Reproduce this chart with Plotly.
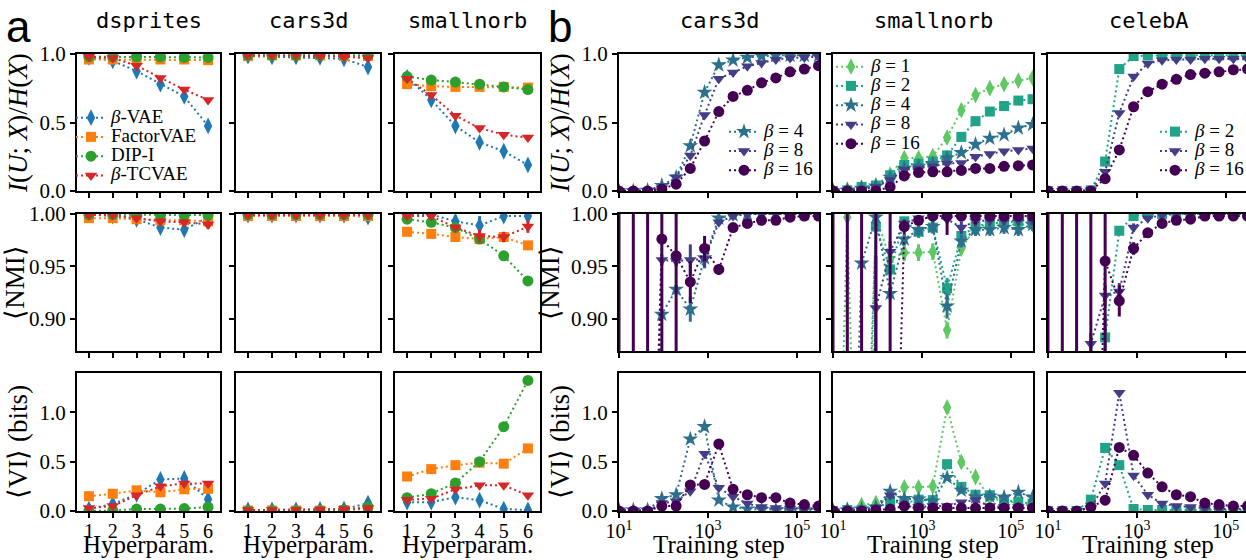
import plotly.graph_objects as go

W, H = 1246, 560

# ---------------- data ----------------
hyperparams = [1, 2, 3, 4, 5, 6]
steps = [10, 21, 44, 92, 193, 402, 842, 1760, 3690, 7720, 16100, 33800, 70700, 148000, 309000]

datasets_a = ['dsprites', 'cars3d', 'smallnorb']
datasets_b = ['cars3d', 'smallnorb', 'celebA']
method_names = ['<i>β</i>-VAE', 'FactorVAE', 'DIP-I', '<i>β</i>-TCVAE']

# Panel a, row 1: I(U;X)/H(X)
mi_dsprites_bvae = [0.975, 0.95, 0.875, 0.78, 0.69, 0.475]
mi_dsprites_fvae = [0.96, 0.96, 0.96, 0.96, 0.96, 0.955]
mi_dsprites_dip = [0.98, 0.98, 0.98, 0.98, 0.975, 0.975]
mi_dsprites_tc = [0.98, 0.97, 0.915, 0.825, 0.74, 0.665]
mi_cars3d_bvae = [0.985, 0.98, 0.98, 0.975, 0.965, 0.905]
mi_cars3d_fvae = [0.985, 0.99, 0.99, 0.99, 0.985, 0.985]
mi_cars3d_dip = [0.99, 0.99, 0.99, 0.99, 0.99, 0.99]
mi_cars3d_tc = [0.99, 0.99, 0.99, 0.985, 0.98, 0.97]
mi_smallnorb_bvae = [0.83, 0.665, 0.475, 0.355, 0.29, 0.19]
mi_smallnorb_fvae = [0.78, 0.765, 0.76, 0.76, 0.76, 0.755]
mi_smallnorb_dip = [0.835, 0.81, 0.795, 0.78, 0.76, 0.74]
mi_smallnorb_tc = [0.82, 0.70, 0.55, 0.46, 0.41, 0.39]

# Panel a, row 2: <NMI> (+ error)
nmi_dsprites_bvae = [0.9995, 0.998, 0.995, 0.987, 0.985, 0.997]
nmi_dsprites_bvae_err = [0.0, 0.001, 0.002, 0.002, 0.002, 0.002]
nmi_dsprites_fvae = [0.996, 0.996, 0.995, 0.994, 0.994, 0.993]
nmi_dsprites_fvae_err = [0.001, 0.001, 0.001, 0.001, 0.001, 0.001]
nmi_dsprites_dip = [0.9995, 0.9995, 0.999, 0.999, 0.999, 0.999]
nmi_dsprites_dip_err = [0.0, 0.0, 0.0, 0.0, 0.0, 0.0]
nmi_dsprites_tc = [0.999, 0.999, 0.996, 0.993, 0.992, 0.99]
nmi_dsprites_tc_err = [0.0, 0.0, 0.002, 0.003, 0.003, 0.004]
nmi_cars3d_bvae = [0.999, 0.999, 0.999, 0.999, 0.999, 0.997]
nmi_cars3d_bvae_err = [0.0, 0.0, 0.0, 0.0, 0.0, 0.001]
nmi_cars3d_fvae = [0.998, 0.998, 0.998, 0.998, 0.998, 0.998]
nmi_cars3d_fvae_err = [0.0, 0.0, 0.0, 0.0, 0.0, 0.0]
nmi_cars3d_dip = [0.9995, 0.9995, 0.9995, 0.9995, 0.9995, 0.9995]
nmi_cars3d_dip_err = [0.0, 0.0, 0.0, 0.0, 0.0, 0.0]
nmi_cars3d_tc = [0.999, 0.999, 0.999, 0.999, 0.999, 0.999]
nmi_cars3d_tc_err = [0.0, 0.0, 0.0, 0.0, 0.0, 0.0]
nmi_smallnorb_bvae = [0.9995, 0.9995, 0.993, 0.989, 0.998, 0.998]
nmi_smallnorb_bvae_err = [0.0, 0.0, 0.006, 0.009, 0.002, 0.002]
nmi_smallnorb_fvae = [0.983, 0.981, 0.978, 0.976, 0.978, 0.970]
nmi_smallnorb_fvae_err = [0.002, 0.002, 0.002, 0.002, 0.002, 0.002]
nmi_smallnorb_dip = [0.995, 0.992, 0.987, 0.976, 0.960, 0.936]
nmi_smallnorb_dip_err = [0.001, 0.001, 0.001, 0.002, 0.002, 0.002]
nmi_smallnorb_tc = [0.998, 0.998, 0.987, 0.979, 0.978, 0.988]
nmi_smallnorb_tc_err = [0.002, 0.002, 0.003, 0.006, 0.005, 0.006]

# Panel a, row 3: <VI> (bits)
vi_dsprites_bvae = [0.02, 0.07, 0.17, 0.32, 0.33, 0.12]
vi_dsprites_fvae = [0.15, 0.175, 0.21, 0.19, 0.22, 0.225]
vi_dsprites_dip = [0.0, 0.005, 0.02, 0.02, 0.025, 0.04]
vi_dsprites_tc = [0.03, 0.05, 0.16, 0.25, 0.28, 0.28]
vi_cars3d_bvae = [0.01, 0.01, 0.01, 0.015, 0.02, 0.08]
vi_cars3d_fvae = [0.005, 0.005, 0.005, 0.005, 0.01, 0.02]
vi_cars3d_dip = [0.0, 0.0, 0.0, 0.0, 0.01, 0.04]
vi_cars3d_tc = [0.01, 0.01, 0.01, 0.015, 0.02, 0.03]
vi_smallnorb_bvae = [0.09, 0.09, 0.14, 0.11, 0.02, 0.01]
vi_smallnorb_fvae = [0.35, 0.425, 0.465, 0.49, 0.48, 0.635]
vi_smallnorb_dip = [0.135, 0.175, 0.285, 0.50, 0.855, 1.325]
vi_smallnorb_tc = [0.115, 0.125, 0.22, 0.26, 0.26, 0.16]

# Panel b, row 1: I(U;X)/H(X) vs training step
mi_b_cars3d_b4 = [0.0, 0.0, 0.005, 0.04, 0.10, 0.33, 0.72, 0.92, 0.955, 0.975, 0.985, 0.99, 0.99, 0.99, 0.99]
mi_b_cars3d_b8 = [0.0, 0.0, 0.0, 0.02, 0.10, 0.26, 0.555, 0.82, 0.865, 0.91, 0.935, 0.96, 0.97, 0.975, 0.98]
mi_b_cars3d_b16 = [0.0, 0.0, 0.0, 0.015, 0.05, 0.165, 0.365, 0.58, 0.69, 0.735, 0.79, 0.825, 0.87, 0.89, 0.915]
mi_b_smallnorb_b1 = [0.0, 0.01, 0.025, 0.04, 0.12, 0.24, 0.24, 0.255, 0.39, 0.59, 0.70, 0.75, 0.78, 0.805, 0.825]
mi_b_smallnorb_b2 = [0.0, 0.005, 0.03, 0.04, 0.115, 0.19, 0.20, 0.215, 0.26, 0.395, 0.51, 0.58, 0.62, 0.66, 0.67]
mi_b_smallnorb_b4 = [0.0, 0.005, 0.02, 0.035, 0.10, 0.165, 0.18, 0.20, 0.24, 0.28, 0.34, 0.385, 0.41, 0.46, 0.485]
mi_b_smallnorb_b8 = [0.0, 0.0, 0.01, 0.03, 0.08, 0.155, 0.165, 0.18, 0.20, 0.205, 0.25, 0.27, 0.29, 0.30, 0.31]
mi_b_smallnorb_b16 = [0.0, 0.0, 0.0, 0.0, 0.03, 0.11, 0.135, 0.14, 0.14, 0.15, 0.165, 0.165, 0.18, 0.185, 0.19]
mi_b_celeba_b2 = [0.0, 0.0, 0.0, 0.005, 0.215, 0.89, 0.985, 0.99, 0.99, 0.99, 0.99, 0.99, 0.99, 0.99, 0.99]
mi_b_celeba_b8 = [0.0, 0.0, 0.0, 0.005, 0.14, 0.57, 0.835, 0.93, 0.955, 0.96, 0.96, 0.965, 0.965, 0.965, 0.965]
mi_b_celeba_b16 = [0.0, 0.0, 0.0, 0.0, 0.09, 0.30, 0.615, 0.725, 0.78, 0.815, 0.85, 0.86, 0.87, 0.885, 0.89]

# Panel b, row 2: <NMI> vs training step (+ error)
nmi_b_cars3d_b4 = [0.45, 0.45, 0.5, 0.904, 0.928, 0.909, 0.958, 0.996, 0.999, 1.0, 1.0, 1.0, 1.0, 1.0, 1.0]
nmi_b_cars3d_b4_err = [0.0, 0.0, 0.0, 0.004, 0.004, 0.012, 0.01, 0.002, 0.0, 0.0, 0.0, 0.0, 0.0, 0.0, 0.0]
nmi_b_cars3d_b8 = [0.45, 0.45, 0.5, 0.956, 0.955, 0.956, 0.957, 0.992, 0.998, 1.0, 1.0, 1.0, 1.0, 1.0, 1.0]
nmi_b_cars3d_b8_err = [0.0, 0.0, 0.0, 0.005, 0.005, 0.015, 0.008, 0.002, 0.001, 0.0, 0.0, 0.0, 0.0, 0.0, 0.0]
nmi_b_cars3d_b16 = [0.5, 0.5, 0.5, 0.976, 0.960, 0.935, 0.967, 0.947, 0.987, 0.991, 0.994, 0.994, 0.997, 0.998, 0.998]
nmi_b_cars3d_b16_err = [0.5, 0.5, 0.5, 0.2, 0.2, 0.02, 0.012, 0.005, 0.003, 0.002, 0.002, 0.002, 0.001, 0.001, 0.001]
nmi_b_smallnorb_b1 = [0.5, 0.997, 0.5, 0.998, 0.957, 0.963, 0.963, 0.964, 0.889, 0.967, 0.987, 0.99, 0.99, 0.99, 0.99]
nmi_b_smallnorb_b1_err = [0.0, 0.002, 0.0, 0.002, 0.006, 0.008, 0.008, 0.008, 0.008, 0.006, 0.004, 0.004, 0.004, 0.004, 0.004]
nmi_b_smallnorb_b2 = [0.4, 0.45, 0.6, 0.988, 0.947, 0.993, 0.983, 0.987, 0.929, 0.979, 0.988, 0.991, 0.992, 0.993, 0.991]
nmi_b_smallnorb_b2_err = [0.0, 0.0, 0.0, 0.004, 0.006, 0.004, 0.006, 0.006, 0.01, 0.006, 0.006, 0.006, 0.005, 0.005, 0.006]
nmi_b_smallnorb_b4 = [0.4, 0.5, 0.953, 0.997, 0.924, 0.976, 0.985, 0.988, 0.912, 0.974, 0.985, 0.985, 0.987, 0.985, 0.99]
nmi_b_smallnorb_b4_err = [0.0, 0.0, 0.006, 0.002, 0.006, 0.006, 0.006, 0.006, 0.012, 0.006, 0.006, 0.006, 0.006, 0.006, 0.006]
nmi_b_smallnorb_b8 = [0.4, 0.45, 0.5, 0.910, 0.964, 0.991, 0.996, 0.997, 0.995, 0.987, 0.993, 0.994, 0.994, 0.994, 0.994]
nmi_b_smallnorb_b8_err = [0.0, 0.0, 0.0, 0.05, 0.01, 0.004, 0.002, 0.002, 0.004, 0.006, 0.004, 0.004, 0.004, 0.004, 0.004]
nmi_b_smallnorb_b16 = [0.5, 0.5, 0.5, 0.5, 0.5, 0.988, 0.994, 0.998, 0.998, 0.998, 0.998, 0.998, 0.998, 0.998, 0.998]
nmi_b_smallnorb_b16_err = [0.5, 0.5, 0.5, 0.5, 0.5, 0.006, 0.004, 0.002, 0.018, 0.003, 0.008, 0.003, 0.003, 0.003, 0.003]
nmi_b_celeba_b2 = [0.3, 0.3, 0.3, 0.4, 0.882, 0.984, 0.998, 1.0, 1.0, 1.0, 1.0, 1.0, 1.0, 1.0, 1.0]
nmi_b_celeba_b2_err = [0.0, 0.0, 0.0, 0.0, 0.02, 0.003, 0.001, 0.0, 0.0, 0.0, 0.0, 0.0, 0.0, 0.0, 0.0]
nmi_b_celeba_b8 = [0.3, 0.3, 0.3, 0.876, 0.922, 0.926, 0.987, 0.996, 0.999, 1.0, 1.0, 1.0, 1.0, 1.0, 1.0]
nmi_b_celeba_b8_err = [0.0, 0.0, 0.0, 0.01, 0.01, 0.008, 0.004, 0.002, 0.001, 0.0, 0.0, 0.0, 0.0, 0.0, 0.0]
nmi_b_celeba_b16 = [0.5, 0.5, 0.5, 0.5, 0.955, 0.917, 0.967, 0.982, 0.991, 0.994, 0.995, 0.998, 0.998, 0.998, 0.998]
nmi_b_celeba_b16_err = [0.5, 0.5, 0.5, 0.5, 0.2, 0.015, 0.006, 0.003, 0.002, 0.002, 0.002, 0.001, 0.001, 0.001, 0.001]

# Panel b, row 3: <VI> (bits) vs training step
vi_b_cars3d_b4 = [0.01, 0.01, 0.01, 0.125, 0.165, 0.73, 0.855, 0.11, 0.04, 0.02, 0.015, 0.01, 0.01, 0.01, 0.01]
vi_b_cars3d_b8 = [0.0, 0.0, 0.0, 0.08, 0.10, 0.20, 0.58, 0.235, 0.145, 0.075, 0.04, 0.03, 0.025, 0.02, 0.02]
vi_b_cars3d_b16 = [0.0, 0.0, 0.0, 0.05, 0.05, 0.265, 0.27, 0.68, 0.22, 0.165, 0.135, 0.135, 0.08, 0.065, 0.05]
vi_b_smallnorb_b1 = [0.0, 0.01, 0.06, 0.08, 0.12, 0.24, 0.24, 0.25, 1.05, 0.495, 0.345, 0.13, 0.10, 0.08, 0.06]
vi_b_smallnorb_b2 = [0.0, 0.01, 0.01, 0.02, 0.10, 0.075, 0.115, 0.11, 0.475, 0.245, 0.165, 0.16, 0.11, 0.09, 0.075]
vi_b_smallnorb_b4 = [0.0, 0.01, 0.02, 0.04, 0.20, 0.125, 0.12, 0.10, 0.34, 0.21, 0.14, 0.15, 0.14, 0.19, 0.14]
vi_b_smallnorb_b8 = [0.0, 0.0, 0.01, 0.03, 0.16, 0.05, 0.04, 0.05, 0.05, 0.09, 0.11, 0.05, 0.04, 0.04, 0.03]
vi_b_smallnorb_b16 = [0.0, 0.0, 0.0, 0.01, 0.02, 0.05, 0.03, 0.03, 0.03, 0.03, 0.03, 0.03, 0.03, 0.03, 0.03]
vi_b_celeba_b2 = [0.0, 0.0, 0.0, 0.115, 0.64, 0.465, 0.02, 0.01, 0.01, 0.01, 0.01, 0.01, 0.01, 0.01, 0.01]
vi_b_celeba_b8 = [0.0, 0.0, 0.0, 0.03, 0.28, 1.20, 0.36, 0.165, 0.075, 0.05, 0.04, 0.03, 0.02, 0.02, 0.02]
vi_b_celeba_b16 = [0.0, 0.0, 0.0, 0.04, 0.11, 0.645, 0.565, 0.385, 0.245, 0.165, 0.145, 0.08, 0.065, 0.05, 0.05]

# ---------------- assemble ----------------
panel_a = {
    0: {'dsprites': [mi_dsprites_bvae, mi_dsprites_fvae, mi_dsprites_dip, mi_dsprites_tc],
        'cars3d': [mi_cars3d_bvae, mi_cars3d_fvae, mi_cars3d_dip, mi_cars3d_tc],
        'smallnorb': [mi_smallnorb_bvae, mi_smallnorb_fvae, mi_smallnorb_dip, mi_smallnorb_tc]},
    1: {'dsprites': [nmi_dsprites_bvae, nmi_dsprites_fvae, nmi_dsprites_dip, nmi_dsprites_tc],
        'cars3d': [nmi_cars3d_bvae, nmi_cars3d_fvae, nmi_cars3d_dip, nmi_cars3d_tc],
        'smallnorb': [nmi_smallnorb_bvae, nmi_smallnorb_fvae, nmi_smallnorb_dip, nmi_smallnorb_tc]},
    2: {'dsprites': [vi_dsprites_bvae, vi_dsprites_fvae, vi_dsprites_dip, vi_dsprites_tc],
        'cars3d': [vi_cars3d_bvae, vi_cars3d_fvae, vi_cars3d_dip, vi_cars3d_tc],
        'smallnorb': [vi_smallnorb_bvae, vi_smallnorb_fvae, vi_smallnorb_dip, vi_smallnorb_tc]},
}
panel_a_err = {
    'dsprites': [nmi_dsprites_bvae_err, nmi_dsprites_fvae_err, nmi_dsprites_dip_err, nmi_dsprites_tc_err],
    'cars3d': [nmi_cars3d_bvae_err, nmi_cars3d_fvae_err, nmi_cars3d_dip_err, nmi_cars3d_tc_err],
    'smallnorb': [nmi_smallnorb_bvae_err, nmi_smallnorb_fvae_err, nmi_smallnorb_dip_err, nmi_smallnorb_tc_err],
}
panel_b_betas = {'cars3d': [4, 8, 16], 'smallnorb': [1, 2, 4, 8, 16], 'celebA': [2, 8, 16]}
panel_b = {
    0: {'cars3d': [mi_b_cars3d_b4, mi_b_cars3d_b8, mi_b_cars3d_b16],
        'smallnorb': [mi_b_smallnorb_b1, mi_b_smallnorb_b2, mi_b_smallnorb_b4, mi_b_smallnorb_b8, mi_b_smallnorb_b16],
        'celebA': [mi_b_celeba_b2, mi_b_celeba_b8, mi_b_celeba_b16]},
    1: {'cars3d': [nmi_b_cars3d_b4, nmi_b_cars3d_b8, nmi_b_cars3d_b16],
        'smallnorb': [nmi_b_smallnorb_b1, nmi_b_smallnorb_b2, nmi_b_smallnorb_b4, nmi_b_smallnorb_b8, nmi_b_smallnorb_b16],
        'celebA': [nmi_b_celeba_b2, nmi_b_celeba_b8, nmi_b_celeba_b16]},
    2: {'cars3d': [vi_b_cars3d_b4, vi_b_cars3d_b8, vi_b_cars3d_b16],
        'smallnorb': [vi_b_smallnorb_b1, vi_b_smallnorb_b2, vi_b_smallnorb_b4, vi_b_smallnorb_b8, vi_b_smallnorb_b16],
        'celebA': [vi_b_celeba_b2, vi_b_celeba_b8, vi_b_celeba_b16]},
}
panel_b_err = {
    'cars3d': [nmi_b_cars3d_b4_err, nmi_b_cars3d_b8_err, nmi_b_cars3d_b16_err],
    'smallnorb': [nmi_b_smallnorb_b1_err, nmi_b_smallnorb_b2_err, nmi_b_smallnorb_b4_err,
                  nmi_b_smallnorb_b8_err, nmi_b_smallnorb_b16_err],
    'celebA': [nmi_b_celeba_b2_err, nmi_b_celeba_b8_err, nmi_b_celeba_b16_err],
}

# ---------------- styles ----------------
A_COLORS = ['#1f77b4', '#ff7f0e', '#2ca02c', '#d62728']
A_SYMBOLS = ['diamond-tall', 'square', 'circle', 'triangle-down']
A_SIZES = [12, 10, 11, 11]
B_COLORS = {1: '#5ec962', 2: '#20a386', 4: '#2d708e', 8: '#433e85', 16: '#440154'}
B_SYMBOLS = {1: 'diamond-tall', 2: 'square', 4: 'star', 8: 'triangle-down', 16: 'circle'}
B_SIZES = {1: 12, 2: 10, 4: 12, 8: 11, 16: 11}
DASH = '2px,3px'

SERIF = 'Liberation Serif'
col_px = [(77, 220), (236, 380), (395, 540), (619, 819), (833, 1033), (1048, 1246)]
row_px = [(54, 191), (214, 351), (373, 511)]
y_ranges = [[0, 1.0], [0.869, 1.0], [0, 1.4]]
y_ticks = [([0, 0.5, 1.0], ['0.0', '0.5', '1.0']),
           ([0.90, 0.95, 1.00], ['0.90', '0.95', '1.00']),
           ([0, 0.5, 1.0], ['0.0', '0.5', '1.0'])]
y_titles = ['<i>I</i>(<i>U</i>; <i>X</i>)/<i>H</i>(<i>X</i>)', '⟨NMI⟩', '⟨VI⟩ (bits)']
b_logmax_last = 1 + 4.5 * (1246 - 1048) / 200

LEG_TXT = '<span style="font-size:19px">%s</span>'

fig = go.Figure()
legend_names = {0: 'legend', 3: 'legend2', 4: 'legend3', 5: 'legend4'}

axis_common = dict(showline=True, mirror=True, linecolor='black', linewidth=2,
                   ticks='outside', ticklen=5, tickwidth=2, tickcolor='black',
                   showgrid=False, zeroline=False, tickfont=dict(family=SERIF, size=21, color='black'))

for r in range(3):
    for c in range(6):
        i = r * 6 + c + 1
        sfx = '' if i == 1 else str(i)
        xa = dict(axis_common)
        ya = dict(axis_common)
        xa['tickfont'] = dict(family=SERIF, size=20, color='black')
        xa['domain'] = [col_px[c][0] / W, min(col_px[c][1] / W, 1.0)]
        ya['domain'] = [1 - row_px[r][1] / H, 1 - row_px[r][0] / H]
        xa['anchor'] = 'y' + sfx
        ya['anchor'] = 'x' + sfx
        if c < 3:
            xa.update(range=[0.5, 6.5], tickvals=hyperparams, ticktext=[str(h) for h in hyperparams],
                      ticklabelstandoff=-4)
        else:
            xa.update(type='log', range=[1, b_logmax_last if c == 5 else 5.5], tickvals=[10, 1000, 100000],
                      ticktext=['10<sup>1</sup>', '10<sup>3</sup>', '10<sup>5</sup>'],
                      ticklabelstandoff=-4)
        xa['showticklabels'] = (r == 2)
        ya.update(range=y_ranges[r], tickvals=y_ticks[r][0], ticktext=y_ticks[r][1])
        ya['showticklabels'] = c in (0, 3)
        if c in (0, 3):
            ya['title'] = dict(text=y_titles[r], font=dict(family=SERIF, size=27), standoff=4)
        fig.update_layout(**{'xaxis' + sfx: xa, 'yaxis' + sfx: ya})

        if c < 3:
            ds = datasets_a[c]
            for m, vals in enumerate(panel_a[r][ds]):
                tr = dict(x=hyperparams, y=vals, xaxis='x' + sfx, yaxis='y' + sfx,
                          mode='lines+markers', name=LEG_TXT % method_names[m],
                          line=dict(color=A_COLORS[m], width=2, dash=DASH),
                          marker=dict(color=A_COLORS[m], symbol=A_SYMBOLS[m], size=A_SIZES[m]),
                          showlegend=(r == 0 and c == 0), legend=legend_names.get(c, 'legend'))
                if r == 1:
                    tr['error_y'] = dict(type='data', array=panel_a_err[ds][m], width=0,
                                         thickness=3, color=A_COLORS[m])
                fig.add_trace(go.Scatter(**tr))
        else:
            ds = datasets_b[c - 3]
            for k, beta in enumerate(panel_b_betas[ds]):
                vals = panel_b[r][ds][k]
                tr = dict(x=steps, y=vals, xaxis='x' + sfx, yaxis='y' + sfx,
                          mode='lines+markers', name=LEG_TXT % ('<i>β</i> = %d' % beta),
                          line=dict(color=B_COLORS[beta], width=2, dash=DASH),
                          marker=dict(color=B_COLORS[beta], symbol=B_SYMBOLS[beta], size=B_SIZES[beta]),
                          showlegend=(r == 0), legend=legend_names[c])
                if r == 1:
                    tr['error_y'] = dict(type='data', array=panel_b_err[ds][k], width=0,
                                         thickness=3, color=B_COLORS[beta])
                fig.add_trace(go.Scatter(**tr))

leg_common = dict(bgcolor='rgba(0,0,0,0)', font=dict(family=SERIF, size=12.5, color='black'),
                  tracegroupgap=0, itemwidth=30, borderwidth=0)
fig.update_layout(
    legend=dict(leg_common, x=71 / W, y=1 - 103 / H, xanchor='left', yanchor='top'),
    legend2=dict(leg_common, x=724 / W, y=1 - 117 / H, xanchor='left', yanchor='top'),
    legend3=dict(leg_common, x=831 / W, y=1 - 52 / H, xanchor='left', yanchor='top'),
    legend4=dict(leg_common, x=1155 / W, y=1 - 117 / H, xanchor='left', yanchor='top'),
)

# x-axis titles, column titles and panel letters
for c in range(6):
    right = col_px[c][1] if c != 5 else 1248
    xc = (col_px[c][0] + right) / 2 / W
    fig.add_annotation(text='Hyperparam.' if c < 3 else 'Training step', xref='paper', yref='paper',
                       x=xc, y=0, xanchor='center', yanchor='bottom', showarrow=False,
                       font=dict(family=SERIF, size=25, color='black'))
titles = [('dsprites', 0), ('cars3d', 1), ('smallnorb', 2), ('cars3d', 3), ('smallnorb', 4), ('celebA', 5)]
for name, c in titles:
    right = col_px[c][1] if c != 5 else 1248
    fig.add_annotation(text=name, xref='paper', yref='paper', x=(col_px[c][0] + right) / 2 / W,
                       y=1 - 21 / H, xanchor='center', yanchor='middle', showarrow=False,
                       font=dict(family='DejaVu Sans Mono', size=22, color='black'))
fig.add_annotation(text='a', xref='paper', yref='paper', x=4 / W, y=1, xanchor='left',
                   yanchor='top', showarrow=False, font=dict(family='Liberation Sans', size=44, color='black'))
fig.add_annotation(text='b', xref='paper', yref='paper', x=546 / W, y=1, xanchor='left',
                   yanchor='top', showarrow=False, font=dict(family='Liberation Sans', size=44, color='black'))

fig.update_layout(width=W, height=H, margin=dict(l=0, r=0, t=0, b=0, autoexpand=False),
                  paper_bgcolor='white', plot_bgcolor='white',
                  font=dict(family=SERIF, color='black'), hovermode=False)

fig.write_html('out.html')
